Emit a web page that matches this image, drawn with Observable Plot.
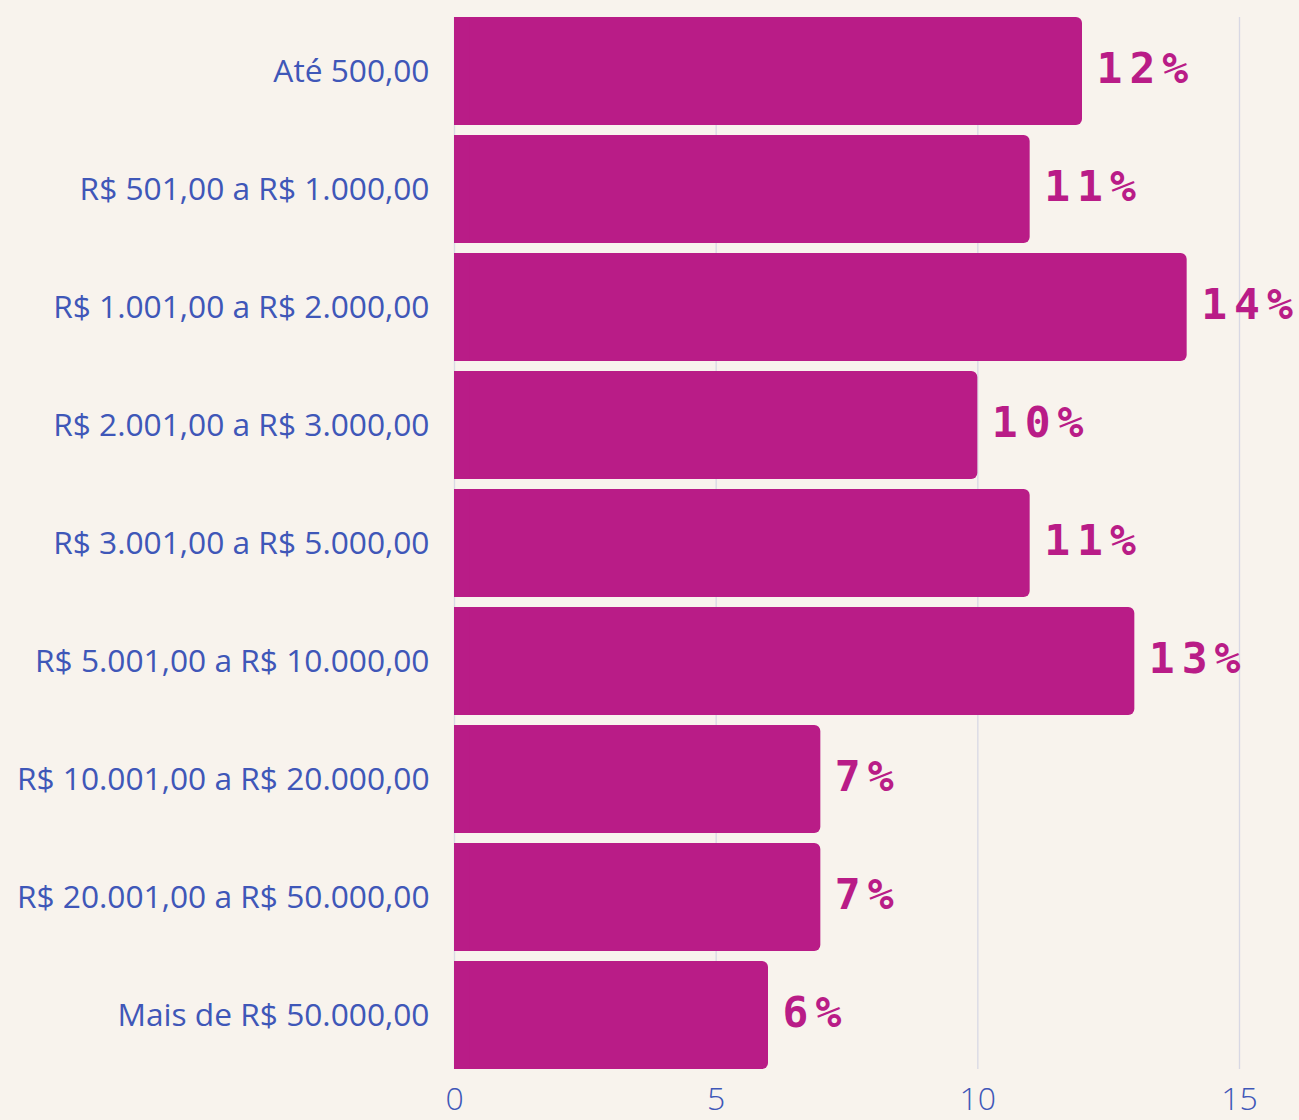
<!DOCTYPE html>
<html>
<head>
<meta charset="utf-8">
<script src="https://cdn.jsdelivr.net/npm/d3@7"></script>
<script src="https://cdn.jsdelivr.net/npm/@observablehq/plot@0.6"></script>
<style>
  html, body { margin: 0; padding: 0; background: #f8f3ed; }
  #chart svg { display: block; }
</style>
</head>
<body>
<div id="chart"></div>
<script>
const categories = [
  "Até 500,00",
  "R$ 501,00 a R$ 1.000,00",
  "R$ 1.001,00 a R$ 2.000,00",
  "R$ 2.001,00 a R$ 3.000,00",
  "R$ 3.001,00 a R$ 5.000,00",
  "R$ 5.001,00 a R$ 10.000,00",
  "R$ 10.001,00 a R$ 20.000,00",
  "R$ 20.001,00 a R$ 50.000,00",
  "Mais de R$ 50.000,00"
];
const values = [12, 11, 14, 10, 11, 13, 7, 7, 6];
const xTicks = [0, 5, 10, 15];

const data = categories.map((c, i) => ({category: c, value: values[i], label: values[i] + "%"}));

const barColor = "#b91c87";
const textColor = "#3f57b8";

const chart = Plot.plot({
  width: 1299,
  height: 1120,
  marginLeft: 454,
  marginRight: 60,
  marginTop: 17,
  marginBottom: 51,
  style: {background: "#f8f3ed", fontFamily: "'Open Sans', sans-serif"},
  x: {domain: [0, 15], ticks: xTicks, label: null, tickSize: 0, tickPadding: 18, grid: false},
  y: {domain: categories, label: null, tickSize: 0, tickPadding: 25, paddingInner: 0.085, paddingOuter: 0},
  marks: [
    Plot.ruleX(xTicks, {stroke: "#d8d8e4", strokeWidth: 1.3}),
    Plot.barX(data, {y: "category", x: "value", fill: barColor, rx: 6}),
    Plot.barX(data, {y: "category", x1: 0, x2: 0.3, fill: barColor}),
    Plot.text(data, {
      y: "category", x: "value", text: "label", dx: 14, dy: -2, textAnchor: "start",
      fill: barColor, fontSize: 43, fontWeight: "bold",
      fontFamily: "'DejaVu Sans Mono', monospace"
    })
  ]
});

chart.querySelectorAll('g[aria-label="y-axis tick label"]').forEach(g => {
  g.setAttribute("font-size", "31.7");
  g.setAttribute("fill", textColor);
  g.setAttribute("font-weight", "400");
});
chart.querySelectorAll('g[aria-label="x-axis tick label"]').forEach(g => {
  g.setAttribute("font-size", "32");
  g.setAttribute("fill", textColor);
  g.setAttribute("font-weight", "300");
});
chart.querySelectorAll('g[aria-label="text"] text').forEach(t => t.setAttribute("letter-spacing", "7"));

document.getElementById("chart").appendChild(chart);
</script>
</body>
</html>
